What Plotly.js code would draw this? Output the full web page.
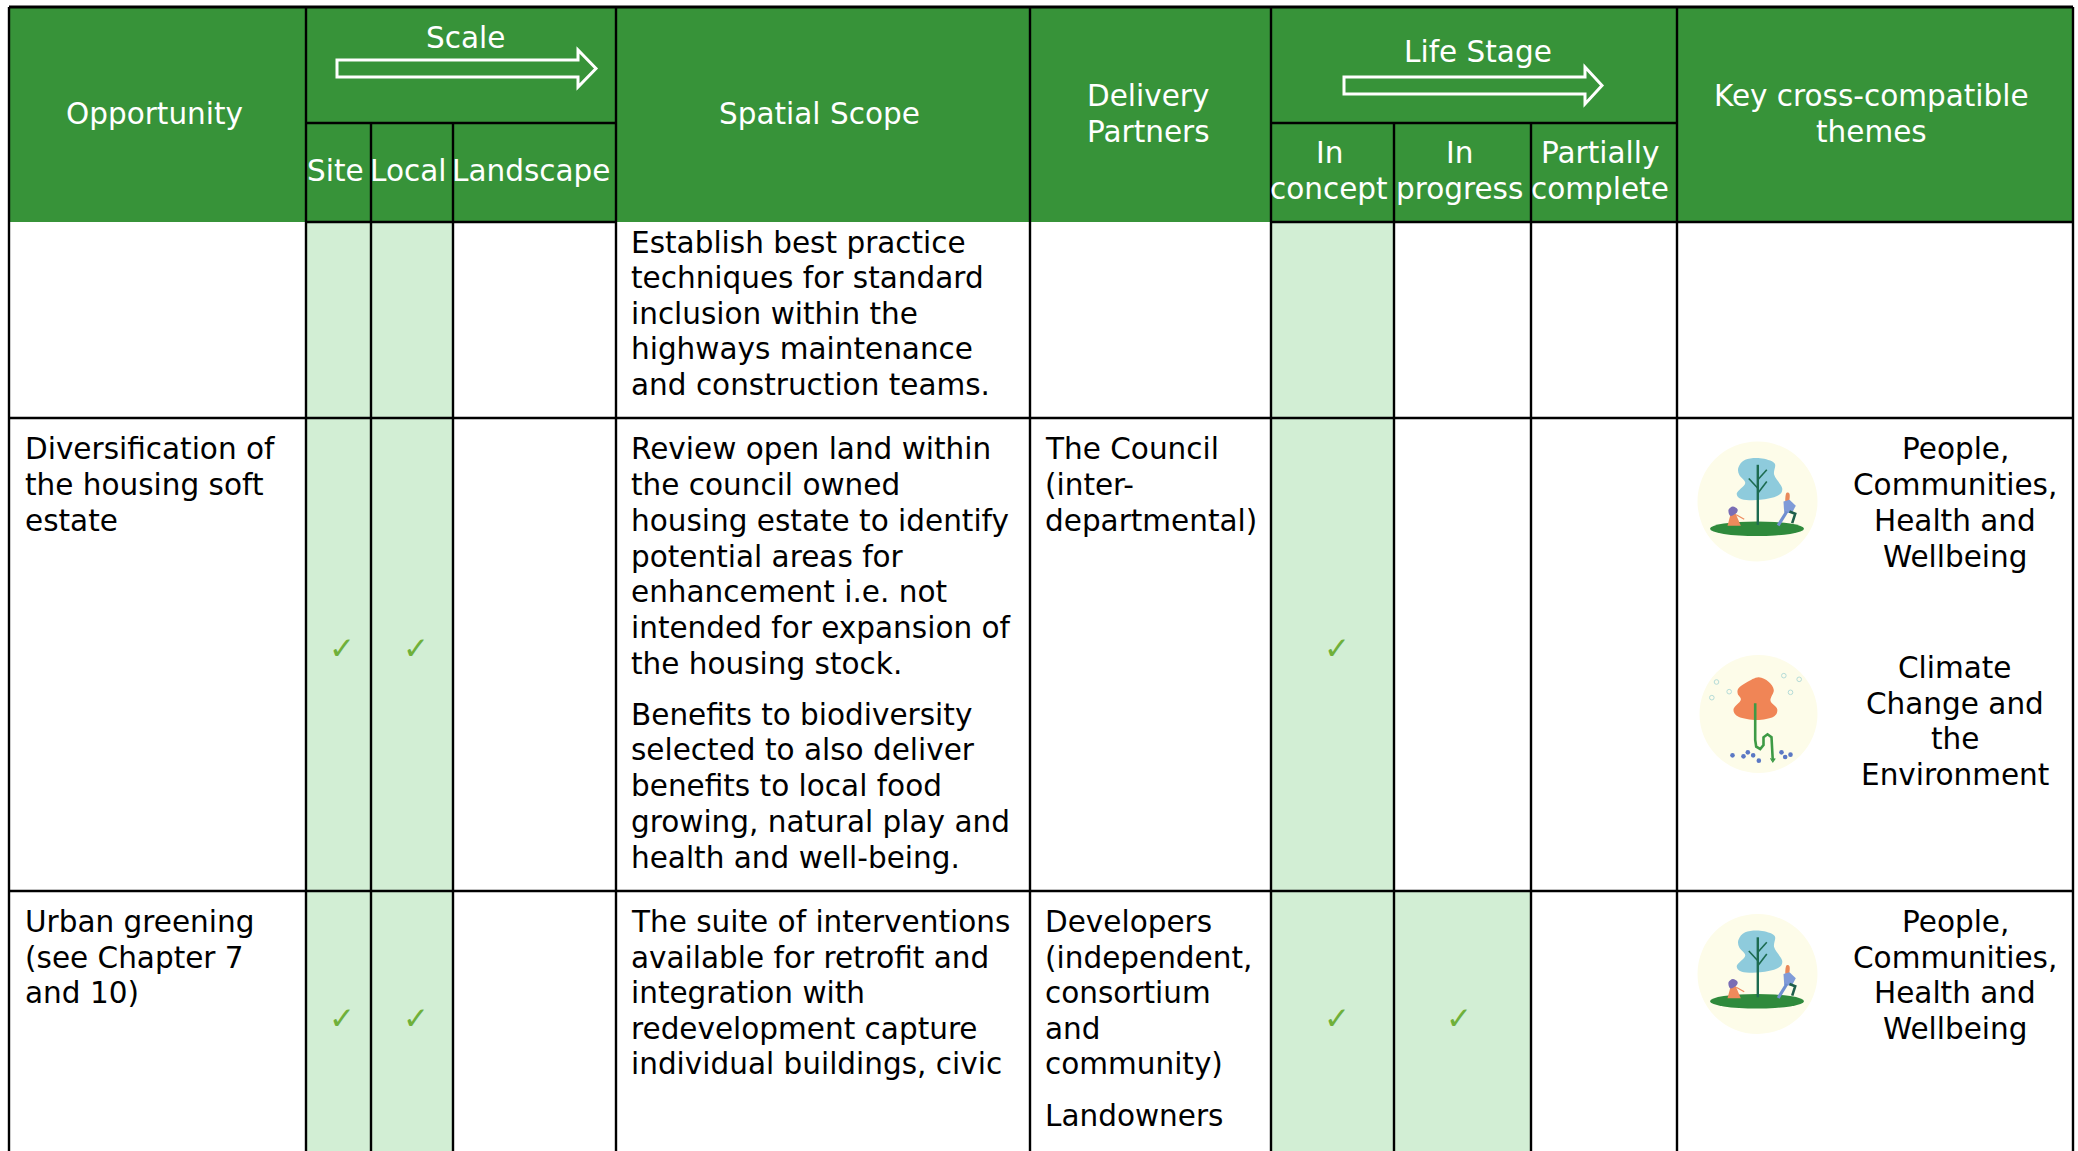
<!DOCTYPE html>
<html><head><meta charset="utf-8">
<script src="https://cdn.plot.ly/plotly-3.0.1.min.js"></script>
<style>html,body{margin:0;padding:0;background:#fff}#t{width:2078px;height:1151px}</style>
</head><body><div id="t"></div>
<script>
const FONT='"DejaVu Sans", Verdana, sans-serif', FS=29.5;
const HEADER='#379339', LIGHT='#d2eed4', CHECK='#6fb03a';
// column edges, row edges
const colX=[9,306,371,453,616,1030,1271,1394,1531,1677,2073];
const rowY=[7,123,222,418,891,1151];
// header labels [text, x, y]
const headerText=['Opportunity','Scale','Spatial Scope','Delivery','Partners','Life Stage','Key cross-compatible','themes','Site','Local','Landscape','In','concept','In','progress','Partially','complete'];
const headerX=[154,465,819,1148,1148,1478,1871,1871,335,408,531,1329,1329,1459,1459,1600,1600];
const headerY=[114,38,114,96,132,52,96,132,171,171,171,153,189,153,189,153,189];
// body text columns
const bodyLeft=[
 ['Establish best practice',631,243],['techniques for standard',631,278],['inclusion within the',631,314],['highways maintenance',631,349],['and construction teams.',631,385],
 ['Diversification of',25,449],['the housing soft',25,485],['estate',25,521],
 ['Review open land within',631,449],['the council owned',631,485],['housing estate to identify',631,521],['potential areas for',631,557],['enhancement i.e. not',631,592],['intended for expansion of',631,628],['the housing stock.',631,664],
 ['Benefits to biodiversity',631,715],['selected to also deliver',631,750],['benefits to local food',631,786],['growing, natural play and',631,822],['health and well-being.',631,858],
 ['The Council',1045,449],['(inter-',1045,485],['departmental)',1045,521],
 ['Urban greening',25,922],['(see Chapter 7',25,958],['and 10)',25,993],
 ['The suite of interventions',631,922],['available for retrofit and',631,958],['integration with',631,993],['redevelopment capture',631,1029],['individual buildings, civic',631,1064],
 ['Developers',1045,922],['(independent,',1045,958],['consortium',1045,993],['and',1045,1029],['community)',1045,1064],['Landowners',1045,1116]
];
const themeText=['People,','Communities,','Health and','Wellbeing','Climate','Change and','the','Environment','People,','Communities,','Health and','Wellbeing'];
const themeY=[449,485,521,557,668,704,739,775,922,958,993,1029];
// highlighted cells: [colIndex, row]
const filled=[[1,2],[2,2],[6,2],[1,3],[2,3],[6,3],[1,4],[2,4],[6,4],[7,4]];
const checkX=[342,416,1337,342,416,1337,1459];
const checkY=[648,648,648,1018,1018,1018,1018];
const iconPeople=[[1757.5,501.5],[1757.5,974]];
const iconClimate=[[1758.5,714]];

const shapes=[];
const rect=(x0,y0,x1,y1,c)=>shapes.push({type:'rect',x0,y0,x1,y1,fillcolor:c,line:{width:0},layer:'below'});
const line=(x0,y0,x1,y1,c='#000',w=2.4)=>shapes.push({type:'line',x0,y0,x1,y1,line:{color:c,width:w}});
function poly(pts,fill,col,w,closed=true){
  const p='M'+pts.map(q=>q[0].toFixed(1)+','+q[1].toFixed(1)).join('L')+(closed?'Z':'');
  shapes.push({type:'path',path:p,fillcolor:fill||'rgba(0,0,0,0)',line:{color:col||'rgba(0,0,0,0)',width:w||0}});
}
function smooth(pts,fill){
  const n=pts.length;let p=`M${pts[0][0]},${pts[0][1]}`;
  for(let i=0;i<n;i++){const a=pts[(i-1+n)%n],b=pts[i],c=pts[(i+1)%n],d=pts[(i+2)%n];
    p+=`C${(b[0]+(c[0]-a[0])/6).toFixed(1)},${(b[1]+(c[1]-a[1])/6).toFixed(1)} ${(c[0]-(d[0]-b[0])/6).toFixed(1)},${(c[1]-(d[1]-b[1])/6).toFixed(1)} ${c[0].toFixed(1)},${c[1].toFixed(1)}`;}
  shapes.push({type:'path',path:p+'Z',fillcolor:fill,line:{width:0}});
}
const dot=(x,y,r,fill,col,w)=>shapes.push({type:'circle',x0:x-r,y0:y-r,x1:x+r,y1:y+r,fillcolor:fill||'rgba(0,0,0,0)',line:{color:col||'rgba(0,0,0,0)',width:w||0}});

// fills
rect(colX[0],rowY[0],colX[10],rowY[2],HEADER);
filled.forEach(([c,r])=>rect(colX[c],rowY[r],colX[c+1],rowY[r+1],LIGHT));
// grid
line(colX[0],rowY[0],colX[10],rowY[0],'#000',3);
line(colX[1],rowY[1],colX[4],rowY[1]); line(colX[6],rowY[1],colX[9],rowY[1]);
line(colX[1],rowY[2],colX[4],rowY[2]); line(colX[6],rowY[2],colX[10],rowY[2]);
line(colX[0],rowY[3],colX[10],rowY[3]); line(colX[0],rowY[4],colX[10],rowY[4]);
line(colX[0],rowY[0],colX[0],rowY[5]); line(colX[10],rowY[0],colX[10],rowY[5]);
[1,4,5,6,9].forEach(i=>line(colX[i],rowY[0],colX[i],rowY[5]));
[2,3,7,8].forEach(i=>line(colX[i],rowY[1],colX[i],rowY[5]));
// arrows
function arrow(x0,x1,xh,ys0,ys1,yh0,yh1){const m=(ys0+ys1)/2;
  poly([[x0,ys0],[xh,ys0],[xh,yh0],[x1,m],[xh,yh1],[xh,ys1],[x0,ys1]],null,'#fff',3);}
arrow(337,596,578,60,77,50,87);
arrow(1344,1602,1585,77,94,67,104);

// icons drawn in a 3x local space around a centre
function people(cx,cy){
  const m=(q)=>q.map(p=>[cx+(p[0]-232)/3,cy+(p[1]-215)/3]);
  const L=(a,c,w)=>poly(m(a),null,c,w,false);
  dot(cx,cy,60,'#fdfce9');
  smooth(m([[175,112],[195,90],[240,85],[283,100],[282,135],[306,175],[292,198],[240,210],[185,208],[170,190],[195,160],[177,135]]),'#8ecbdc');
  shapes.push({type:'circle',x0:cx-47.5,y0:cy+20,x1:cx+46.5,y1:cy+34.5,fillcolor:'#2f8a3c',line:{width:0}});
  L([[233,105],[233,285]],'#1d6b50',2.4);
  L([[233,175],[206,146]],'#1d6b50',1.6);L([[233,150],[260,120]],'#1d6b50',1.6);L([[233,190],[260,155]],'#1d6b50',1.6);
  // child
  poly(m([[152,250],[166,250],[182,288],[142,288]]),'#ee8a5c');
  L([[168,255],[192,268]],'#ee8a5c',1.3);
  smooth(m([[145,240],[158,230],[172,238],[168,250],[150,258]]),'#7a6db5');
  // adult
  smooth(m([[318,190],[328,192],[327,212],[316,215]]),'#e8885a');
  poly(m([[310,215],[328,210],[347,228],[335,250],[312,248]]),'#7f9bd8');
  L([[320,245],[294,287]],'#6f8fd0',3.2);
  L([[328,245],[345,252],[336,280]],'#1f5f4a',2.6);
}
function climate(cx,cy){
  const m=(q)=>q.map(p=>[cx+(p[0]-235)/3,cy+(p[1]-222)/3]);
  const P=(x,y)=>[cx+(x-235)/3,cy+(y-222)/3];
  dot(cx,cy,59,'#fdfce9');
  smooth(m([[175,145],[200,127],[235,112],[265,125],[281,150],[271,182],[291,207],[280,230],[230,240],[175,230],[160,208],[182,180],[173,162]]),'#f08556');
  poly(m([[225,190],[225,300],[228,320],[240,327],[250,315],[250,292],[262,283],[274,292],[278,362]]),null,'#3d9a45',2.6,false);
  poly(m([[271,355],[278,366],[285,355]]),null,'#3d9a45',1.2,false);
  [[157,346],[190,349],[203,337],[219,346],[236,362],[304,337],[315,351],[331,344]].forEach(q=>{const p=P(q[0],q[1]);dot(p[0],p[1],2.3,'#5b78c4');});
  [[109,126],[95,173],[147,155],[311,107],[357,118],[331,157]].forEach(q=>{const p=P(q[0],q[1]);dot(p[0],p[1],2.3,null,'#b5dcd8',1);});
}
iconPeople.forEach(p=>people(p[0],p[1]));
iconClimate.forEach(p=>climate(p[0],p[1]));

const ann=(text,x,y,color,anchor,size=FS)=>({text,x,y,xref:'x',yref:'y',showarrow:false,xanchor:anchor,yanchor:'middle',
  font:{family:FONT,size,color},borderpad:0,borderwidth:0,align:anchor});
const annotations=[
 ...headerText.map((t,i)=>ann(t,headerX[i],headerY[i],'#fff','center')),
 ...bodyLeft.map(b=>ann(b[0],b[1],b[2],'#000','left')),
 ...themeText.map((t,i)=>ann(t,1955,themeY[i],'#000','center')),
 ...checkX.map((x,i)=>ann('✓',x,checkY[i],CHECK,'center',31))
];
Plotly.newPlot('t',[{x:[],y:[],type:'scatter',mode:'markers',showlegend:false,hoverinfo:'skip'}],{
  width:2078,height:1151,margin:{l:0,r:0,t:0,b:0,pad:0},paper_bgcolor:'#fff',plot_bgcolor:'#fff',showlegend:false,
  xaxis:{range:[0,2078],visible:false,fixedrange:true},
  yaxis:{range:[1151,0],visible:false,fixedrange:true},
  shapes,annotations
},{displayModeBar:false,staticPlot:true});
</script></body></html>
